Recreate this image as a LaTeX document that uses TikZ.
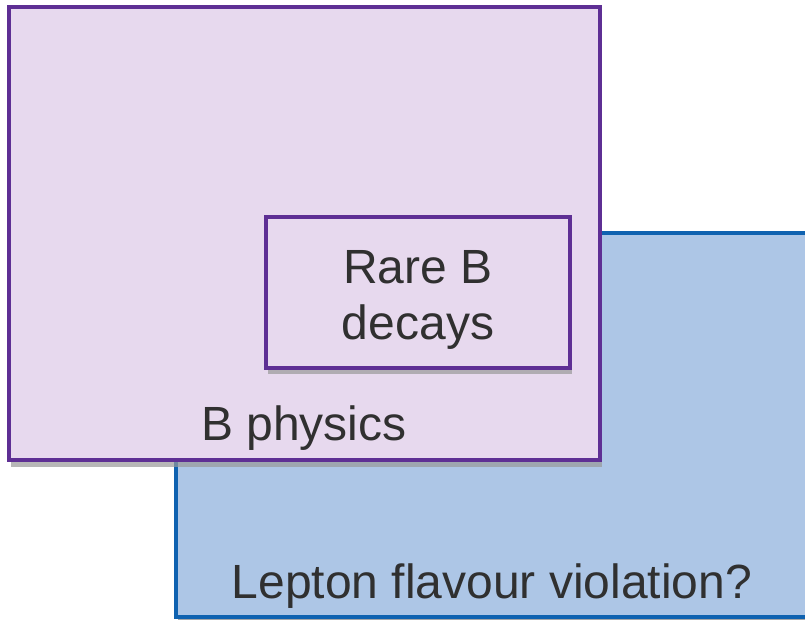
\documentclass[tikz,border=0pt]{standalone}
\usepackage{fontspec}
\setmainfont{Liberation Sans}
\definecolor{purpleline}{HTML}{5E2F94}
\definecolor{purplefill}{HTML}{E7D9EE}
\definecolor{blueline}{HTML}{0F62B0}
\definecolor{bluefill}{HTML}{ADC6E6}
\definecolor{textgray}{HTML}{303030}
\begin{document}
\begin{tikzpicture}[x=1pt,y=-1pt,
  shadowed/.style={line width=3.6pt},
  boxlabel/.style={text=textgray,font=\fontsize{48}{56}\selectfont,align=center,inner sep=0pt}]
\useasboundingbox (0,0) rectangle (805,620);
\begin{scope}
\clip (0,0) rectangle (805,620);
% lepton flavour region (runs off the right edge)
\fill[black!35] (178,236) rectangle (830,622);
\draw[shadowed,draw=blueline,fill=bluefill] (176,233) rectangle (830,617);
% B physics region with soft shadow
\fill[black!40,opacity=0.7] (11,462) rectangle (602,467);
\draw[shadowed,draw=purpleline,fill=purplefill] (9,7) rectangle (600,460);
% rare decays box
\fill[black!40,opacity=0.7] (268,370) rectangle (572,374);
\draw[shadowed,draw=purpleline,fill=purplefill] (266,217) rectangle (570,368);
\end{scope}
\node[boxlabel] (rare) at (418,300) {Rare B\\decays};
\node[boxlabel,anchor=base] (bphys) at (304,440) {B physics};
\node[boxlabel,anchor=base] (lfv) at (492,598) {Lepton flavour violation?};
\end{tikzpicture}
\end{document}
